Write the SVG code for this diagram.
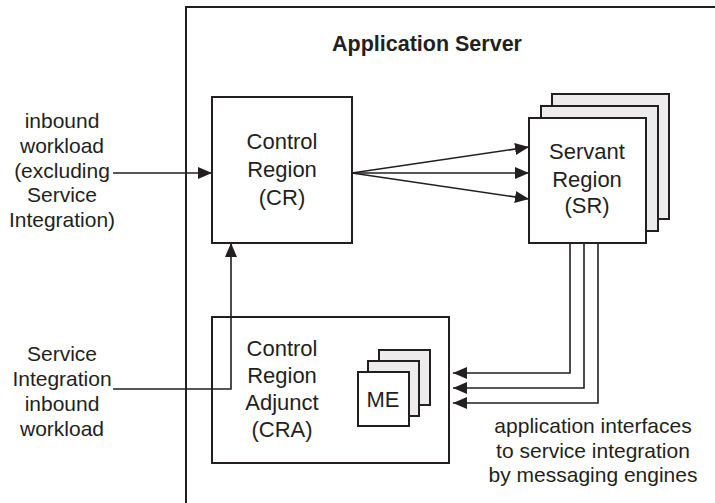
<svg xmlns="http://www.w3.org/2000/svg" width="715" height="503" viewBox="0 0 715 503">
<defs>
<style>
text{font-family:"Liberation Sans",Arial,sans-serif;fill:#231f20;text-anchor:middle}
.lbl{font-size:21px}
.box{font-size:22px}
.b{fill:#fff;stroke:#231f20;stroke-width:2}
.g{fill:#ececec;stroke:#231f20;stroke-width:2}
.ln{fill:none;stroke:#231f20;stroke-width:1.6}
</style>
<marker id="ah" viewBox="0 0 14 12" refX="14" refY="6" markerWidth="14" markerHeight="12" markerUnits="userSpaceOnUse" orient="auto">
<path d="M0,0 L14,6 L0,12 Z" fill="#231f20"/>
</marker>
</defs>
<rect width="715" height="503" fill="#fff"/>
<g id="app-server">
<path d="M186,510 L186,7 L720,7" fill="none" stroke="#231f20" stroke-width="2"/>
<text x="427" y="51" style="font-size:21.5px;font-weight:bold">Application Server</text>
</g>
<g id="cr">
<rect class="b" x="212" y="97" width="140" height="146"/>
<text class="box" x="282" y="149">Control</text>
<text class="box" x="282" y="177">Region</text>
<text class="box" x="282" y="205">(CR)</text>
</g>
<g id="sr">
<rect class="g" x="552" y="94" width="117" height="125"/>
<rect class="g" x="541" y="106" width="117" height="125"/>
<rect class="b" x="529" y="118" width="117" height="125"/>
<text class="box" x="587" y="159">Servant</text>
<text class="box" x="587" y="187">Region</text>
<text class="box" x="587" y="213">(SR)</text>
</g>
<g id="cra">
<rect class="b" x="212" y="317" width="237" height="146"/>
<text class="box" x="282" y="356">Control</text>
<text class="box" x="282" y="383">Region</text>
<text class="box" x="282" y="410">Adjunct</text>
<text class="box" x="282" y="437">(CRA)</text>
</g>
<g id="me">
<rect class="g" x="379" y="350" width="51" height="55"/>
<rect class="g" x="368" y="361" width="51" height="55"/>
<rect class="b" x="358" y="372" width="51" height="54"/>
<text class="box" x="383" y="407">ME</text>
</g>
<g id="label-inbound">
<text class="lbl" x="62" y="128">inbound</text>
<text class="lbl" x="62" y="153">workload</text>
<text class="lbl" x="62" y="178">(excluding</text>
<text class="lbl" x="62" y="202">Service</text>
<text class="lbl" x="62" y="227">Integration)</text>
</g>
<g id="label-si">
<text class="lbl" x="62" y="361">Service</text>
<text class="lbl" x="62" y="386">Integration</text>
<text class="lbl" x="62" y="411">inbound</text>
<text class="lbl" x="62" y="436">workload</text>
</g>
<g id="label-api">
<text class="lbl" x="593" y="433">application interfaces</text>
<text class="lbl" x="593" y="458">to service integration</text>
<text class="lbl" x="593" y="482">by messaging engines</text>
</g>
<g id="connectors">
<line class="ln" x1="113" y1="173" x2="212" y2="173" marker-end="url(#ah)"/>
<line class="ln" x1="352" y1="173" x2="529" y2="147" marker-end="url(#ah)"/>
<line class="ln" x1="352" y1="173" x2="529" y2="173" marker-end="url(#ah)"/>
<line class="ln" x1="352" y1="173" x2="529" y2="199" marker-end="url(#ah)"/>
<path class="ln" d="M113,389 L231,389 L231,243" marker-end="url(#ah)"/>
<path class="ln" d="M570,243 L570,373 L453,373" marker-end="url(#ah)"/>
<path class="ln" d="M584,243 L584,388 L453,388" marker-end="url(#ah)"/>
<path class="ln" d="M598,243 L598,403 L453,403" marker-end="url(#ah)"/>
</g>
</svg>
